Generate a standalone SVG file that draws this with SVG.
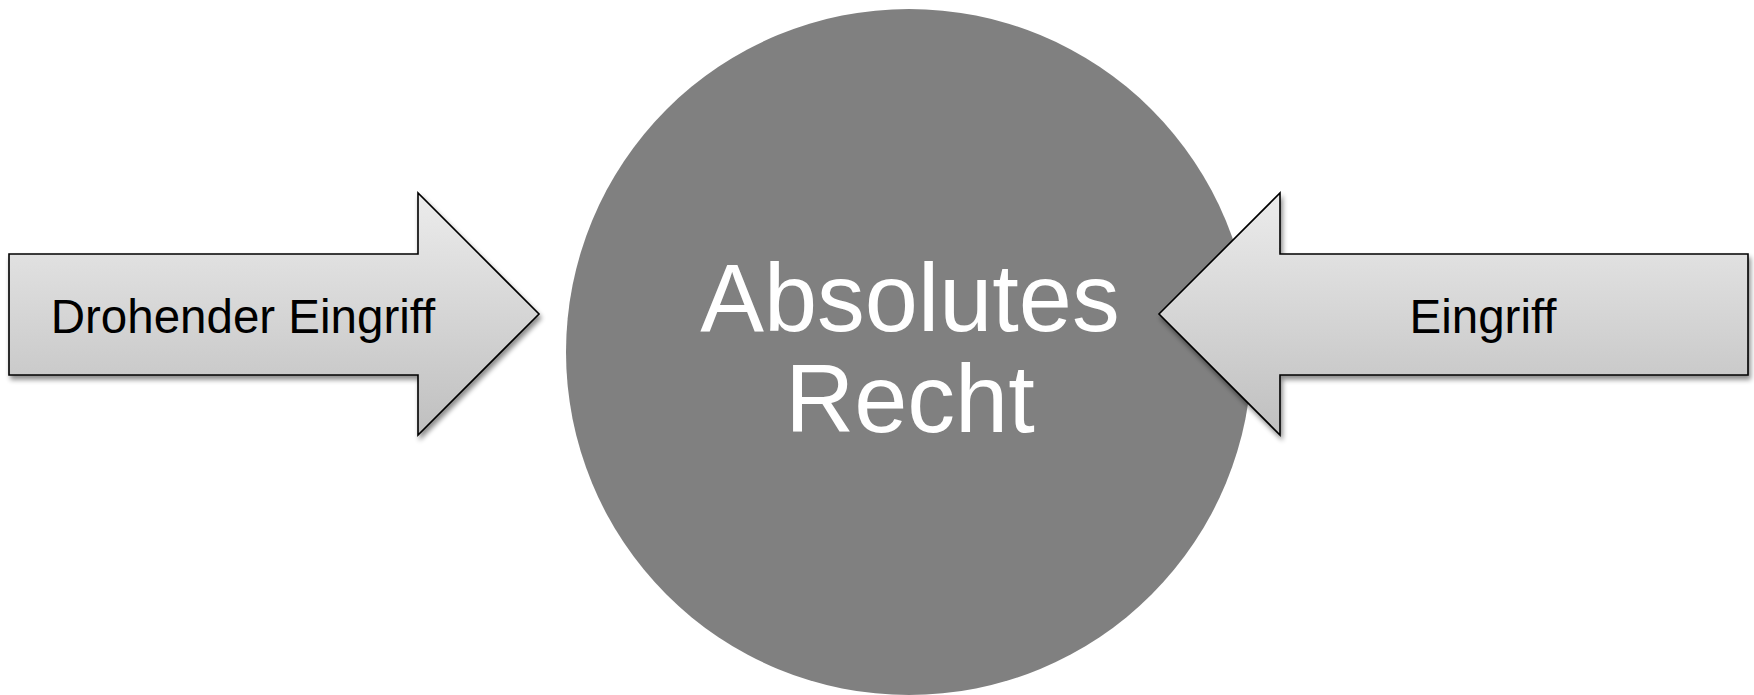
<svg xmlns="http://www.w3.org/2000/svg" width="1754" height="695" viewBox="0 0 1754 695">
<defs>
<linearGradient id="g" x1="0" y1="0" x2="0" y2="1">
<stop offset="0" stop-color="#ececec"/>
<stop offset="1" stop-color="#bfbfbf"/>
</linearGradient>
<filter id="sh" x="-10%" y="-10%" width="120%" height="130%">
<feGaussianBlur in="SourceAlpha" stdDeviation="2.5"/>
<feOffset dx="2" dy="4" result="b"/>
<feComponentTransfer><feFuncA type="linear" slope="0.45"/></feComponentTransfer>
<feMerge><feMergeNode/><feMergeNode in="SourceGraphic"/></feMerge>
</filter>
</defs>
<style>
.arrow{fill:url(#g);stroke:#000;stroke-width:1.6;stroke-linejoin:miter;filter:url(#sh)}
.lbl{font-family:"Liberation Sans",Arial,sans-serif;font-size:47.5px;fill:#000;text-anchor:middle}
.big{font-family:"Liberation Sans",Arial,sans-serif;font-size:95.5px;fill:#fff;text-anchor:middle}
</style>
<rect width="1754" height="695" fill="#fff"/>
<g id="circle">
<circle cx="909" cy="352" r="343" fill="#808080"/>
<text class="big" x="910" y="331">Absolutes</text>
<text class="big" x="910" y="432">Recht</text>
</g>
<g id="connectors">
<g id="left-arrow">
<path class="arrow" d="M9,254 H418 V193 L539,314 L418,435 V375 H9 Z"/>
<text class="lbl" x="243" y="333">Drohender Eingriff</text>
</g>
<g id="right-arrow">
<path class="arrow" d="M1748,254 H1280 V193 L1159,314 L1280,435 V375 H1748 Z"/>
<text class="lbl" x="1483" y="333">Eingriff</text>
</g>
</g>
</svg>
